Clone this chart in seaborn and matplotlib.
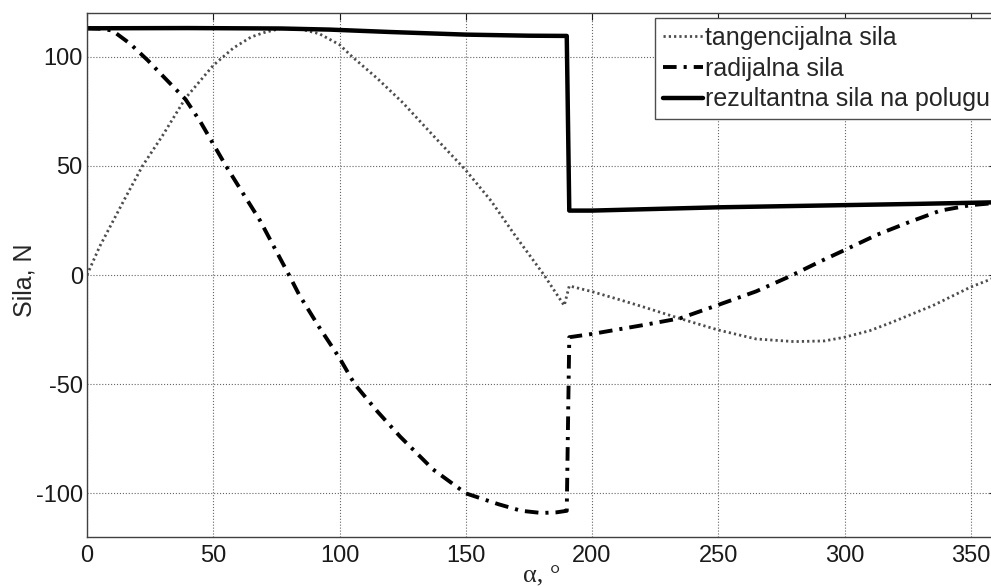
import numpy as np
import pandas as pd
import matplotlib
matplotlib.use('Agg')
import matplotlib.pyplot as plt
import seaborn as sns

# values
x_tang = [0, 5, 10, 15, 22, 30, 39, 50, 58, 65, 70, 77, 85, 92, 100, 105, 115, 125, 137, 150,
          160, 169, 181, 189, 191, 200, 210, 220, 235, 250, 265, 280, 292, 300, 310, 318, 335, 350, 360]
tang = [0, 13, 24, 35, 50, 64, 81, 96, 104, 109, 111, 113, 112.5, 110.5, 105.5, 100, 90, 79, 64, 48,
        34, 19, 0, -14, -5, -7.6, -11, -14.5, -20, -25.2, -29.3, -30.5, -30.2, -28.5, -25.5, -22, -14, -5.5, -1]

x_rad = [0, 5, 10, 17, 24, 31, 39, 45, 50, 55, 62, 68.5, 74, 80, 84, 92, 100, 106, 115, 124,
         137, 150, 163, 172, 180, 186, 190, 191, 200, 210, 220, 235, 250, 265, 278, 290, 300,
         313, 326, 338, 350, 360]
rad = [113, 112.8, 112, 106, 98.4, 90, 80.5, 70, 60, 50, 37, 25, 13, 0, -9, -24, -38, -50, -62.5, -74,
       -89, -100, -105, -108, -109, -108.7, -108, -28.5, -27, -25, -23, -19.8, -13.7, -7.5, -0.8, 6, 11.4,
       18.5, 24.4, 29.5, 32, 33]

x_res = [0, 40, 77, 96, 120, 150, 175, 190, 191, 200, 250, 300, 330, 360]
res = [113, 113.1, 112.9, 112.4, 111.3, 110.1, 109.6, 109.5, 29.5, 29.5, 31, 32, 32.6, 33.3]

labels = ['tangencijalna sila', 'radijalna sila', 'rezultantna sila na polugu']
x_ticks = [0, 50, 100, 150, 200, 250, 300, 350]
y_ticks = [-100, -50, 0, 50, 100]

sns.set_style('white')
plt.rcParams['font.family'] = ['Liberation Sans', 'DejaVu Sans']
plt.rcParams['axes.unicode_minus'] = False

W, H = 991, 587
fig = plt.figure(figsize=(W / 100, H / 100), dpi=100)
# axes right edge lies slightly beyond the picture, like the cropped original
ax = fig.add_axes([87 / W, 50 / H, 909 / W, 524 / H])

df_t = pd.DataFrame({'alpha': x_tang, 'F': tang})
df_r = pd.DataFrame({'alpha': x_rad, 'F': rad})
df_R = pd.DataFrame({'alpha': x_res, 'F': res})

sns.lineplot(data=df_t, x='alpha', y='F', ax=ax, color='0.3', linestyle=(0, (0.8, 1.1)), linewidth=2.0,
             label=labels[0], estimator=None, sort=False)
sns.lineplot(data=df_r, x='alpha', y='F', ax=ax, color='k', linestyle=(0, (3.5, 1.8, 0.8, 1.8)),
             linewidth=2.8, label=labels[1], estimator=None, sort=False)
sns.lineplot(data=df_R, x='alpha', y='F', ax=ax, color='k', linestyle='-', linewidth=3.2,
             label=labels[2], estimator=None, sort=False)

ax.set_xlim(0, 360)
ax.set_ylim(-120, 120)
ax.set_xticks(x_ticks)
ax.set_yticks(y_ticks)
ax.grid(True, linestyle=':', color='0.4', linewidth=0.8)
ax.tick_params(direction='in', length=5, width=0.8, top=True, right=True, labelsize=17, colors='0.1')
ax.tick_params(axis='x', pad=6)
ax.tick_params(axis='y', pad=3)
for sp in ax.spines.values():
    sp.set_color('0.25')
    sp.set_linewidth(1.0)

ax.set_ylabel('Sila, N', fontsize=18)
ax.yaxis.set_label_coords(-0.056, 0.49)
ax.set_xlabel('α, °', fontsize=19, family=['Liberation Serif', 'DejaVu Serif'])
ax.xaxis.set_label_coords(0.5, -0.055)

leg = ax.legend(loc='upper left', bbox_to_anchor=(655 / W, 1 - 18.3 / H), bbox_transform=fig.transFigure,
                fontsize=18, frameon=True, fancybox=False, edgecolor='0.3', framealpha=1,
                borderpad=0.3, labelspacing=0.27, handlelength=1.6, handletextpad=0.1, borderaxespad=0)
leg.get_frame().set_linewidth(1.0)

fig.savefig('out.png', dpi=100)
